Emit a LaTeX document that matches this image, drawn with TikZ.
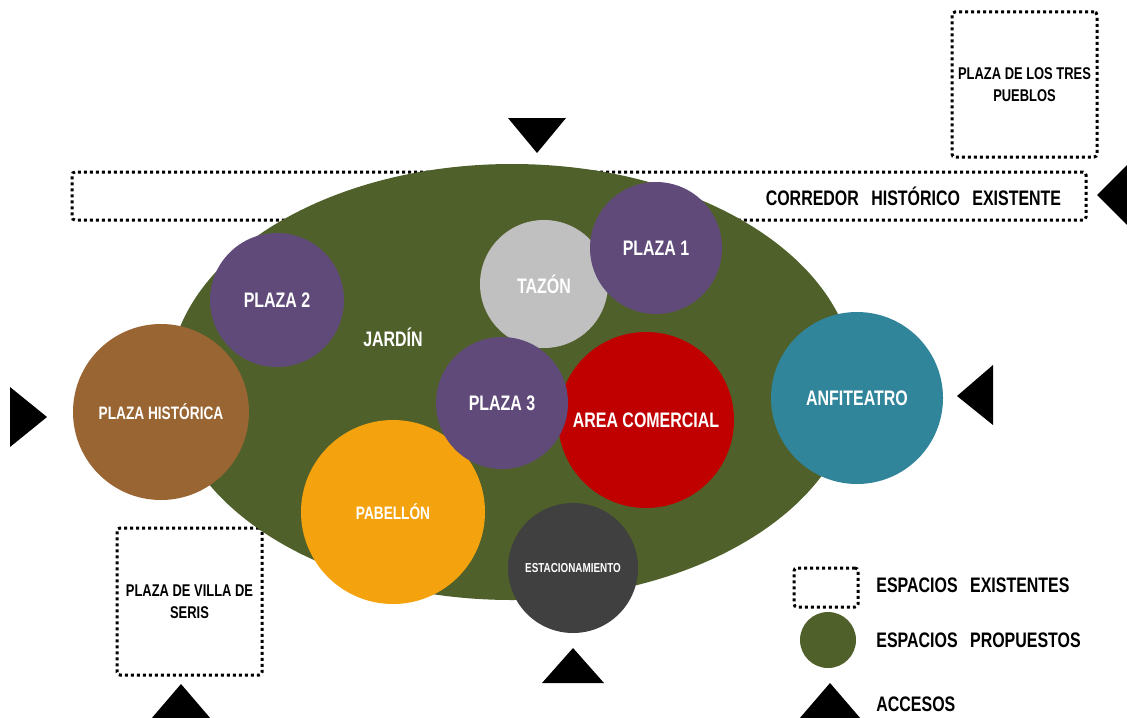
\documentclass[tikz,border=0pt]{standalone}
\usepackage{fontspec}
\newfontfamily\planfont[FakeStretch=0.76]{Liberation Sans}
\usetikzlibrary{shapes.geometric,positioning}

\definecolor{jardinverde}{HTML}{50602A}
\definecolor{plazamorada}{HTML}{5F4A7A}
\definecolor{historicacafe}{HTML}{996532}
\definecolor{tazongris}{HTML}{C0C0C0}
\definecolor{comercialrojo}{HTML}{C00000}
\definecolor{anfiteatroazul}{HTML}{31859B}
\definecolor{pabellonnaranja}{HTML}{F4A20E}
\definecolor{estacionamientogris}{HTML}{404040}

\tikzset{
  zona/.style={circle, inner sep=0pt, text=white,
    font=\planfont\bfseries\fontsize{10.5}{12}\selectfont},
  existente/.style={draw, line width=1.5pt, dash pattern=on 1.5pt off 1.5pt,
    rounded corners=1.5pt, inner sep=0pt, align=center},
  rotulo/.style={inner sep=0pt, text=black,
    font=\planfont\bfseries\fontsize{10.5}{12}\selectfont},
  rotulochico/.style={font=\planfont\bfseries\fontsize{8.5}{11}\selectfont},
  acceso/.style={fill=black},
}

\begin{document}
\begin{tikzpicture}[x=0.5pt, y=-0.5pt]
  \clip (0,0) rectangle (1127,717);
  % espacios existentes
  \node[existente, minimum width=507pt, minimum height=24pt] (corredor) at (579,196) {};
  \node[rotulo, anchor=east, left=13pt of corredor.east] (corredorlbl) {CORREDOR\hspace{4pt} HISTÓRICO\hspace{4pt} EXISTENTE};
  \node[existente, rotulochico, minimum width=72.5pt, minimum height=72.5pt] (trespueblos) at (1024.5,84.5) {PLAZA DE LOS TRES\\PUEBLOS};
  \node[existente, rotulochico, minimum width=72.5pt, minimum height=73.5pt] (villaseris) at (189.5,601.5) {PLAZA DE VILLA DE\\SERIS};
  % jardin
  \node[ellipse, fill=jardinverde, inner sep=0pt, minimum width=343pt, minimum height=218pt] (jardin) at (512,382) {};
  \node[rotulo, text=white] (jardinlbl) at (393,337) {JARDÍN};
  % espacios propuestos
  \node[zona, fill=plazamorada, minimum size=67pt] (plazados) at (277,300) {PLAZA 2};
  \node[zona, fill=historicacafe, minimum size=88pt, font=\planfont\bfseries\fontsize{9}{11}\selectfont] (historica) at (161,412) {PLAZA HISTÓRICA};
  \node[zona, fill=tazongris, minimum size=64pt] (tazon) at (544,284) {TAZÓN};
  \node[zona, fill=plazamorada, minimum size=66pt] (plazauno) at (656,248) {PLAZA 1};
  \node[zona, fill=comercialrojo, minimum size=88pt] (comercial) at (646,420) {AREA COMERCIAL};
  \node[zona, fill=pabellonnaranja, minimum size=92pt, font=\planfont\bfseries\fontsize{9}{11}\selectfont] (pabellon) at (393,512) {PABELLÓN};
  \node[zona, fill=plazamorada, minimum size=66pt] (plazatres) at (502,403) {PLAZA 3};
  \node[zona, fill=anfiteatroazul, minimum size=86pt] (anfiteatro) at (857,398) {ANFITEATRO};
  \node[zona, fill=estacionamientogris, minimum size=65pt, font=\planfont\bfseries\fontsize{6.5}{8}\selectfont] (estacionamiento) at (573,568) {ESTACIONAMIENTO};
  % accesos
  \fill[acceso] (508,118) -- (566,118) -- (537,153) -- cycle;
  \fill[acceso] (1097,195) -- (1130,162) -- (1130,228) -- cycle;
  \fill[acceso] (10,387) -- (10,447) -- (47,417) -- cycle;
  \fill[acceso] (957,396) -- (993,365) -- (993,425) -- cycle;
  \fill[acceso] (573,648) -- (542,683) -- (604,683) -- cycle;
  \fill[acceso] (181,684) -- (151,719) -- (211,719) -- cycle;
  % leyenda
  \node[existente, minimum width=32pt, minimum height=19.5pt] (leyendaexist) at (826,587.5) {};
  \node[circle, fill=jardinverde, minimum size=28pt, inner sep=0pt] (leyendaprop) at (828,640) {};
  \fill[acceso] (830,683) -- (799,719) -- (861,719) -- cycle;
  \node[rotulo, anchor=west] (leyendaexistlbl) at (876,585) {ESPACIOS\hspace{4pt} EXISTENTES};
  \node[rotulo, anchor=west] (leyendaproplbl) at (876,640) {ESPACIOS\hspace{4pt} PROPUESTOS};
  \node[rotulo, anchor=west] (accesoslbl) at (876,704) {ACCESOS};
\end{tikzpicture}
\end{document}
